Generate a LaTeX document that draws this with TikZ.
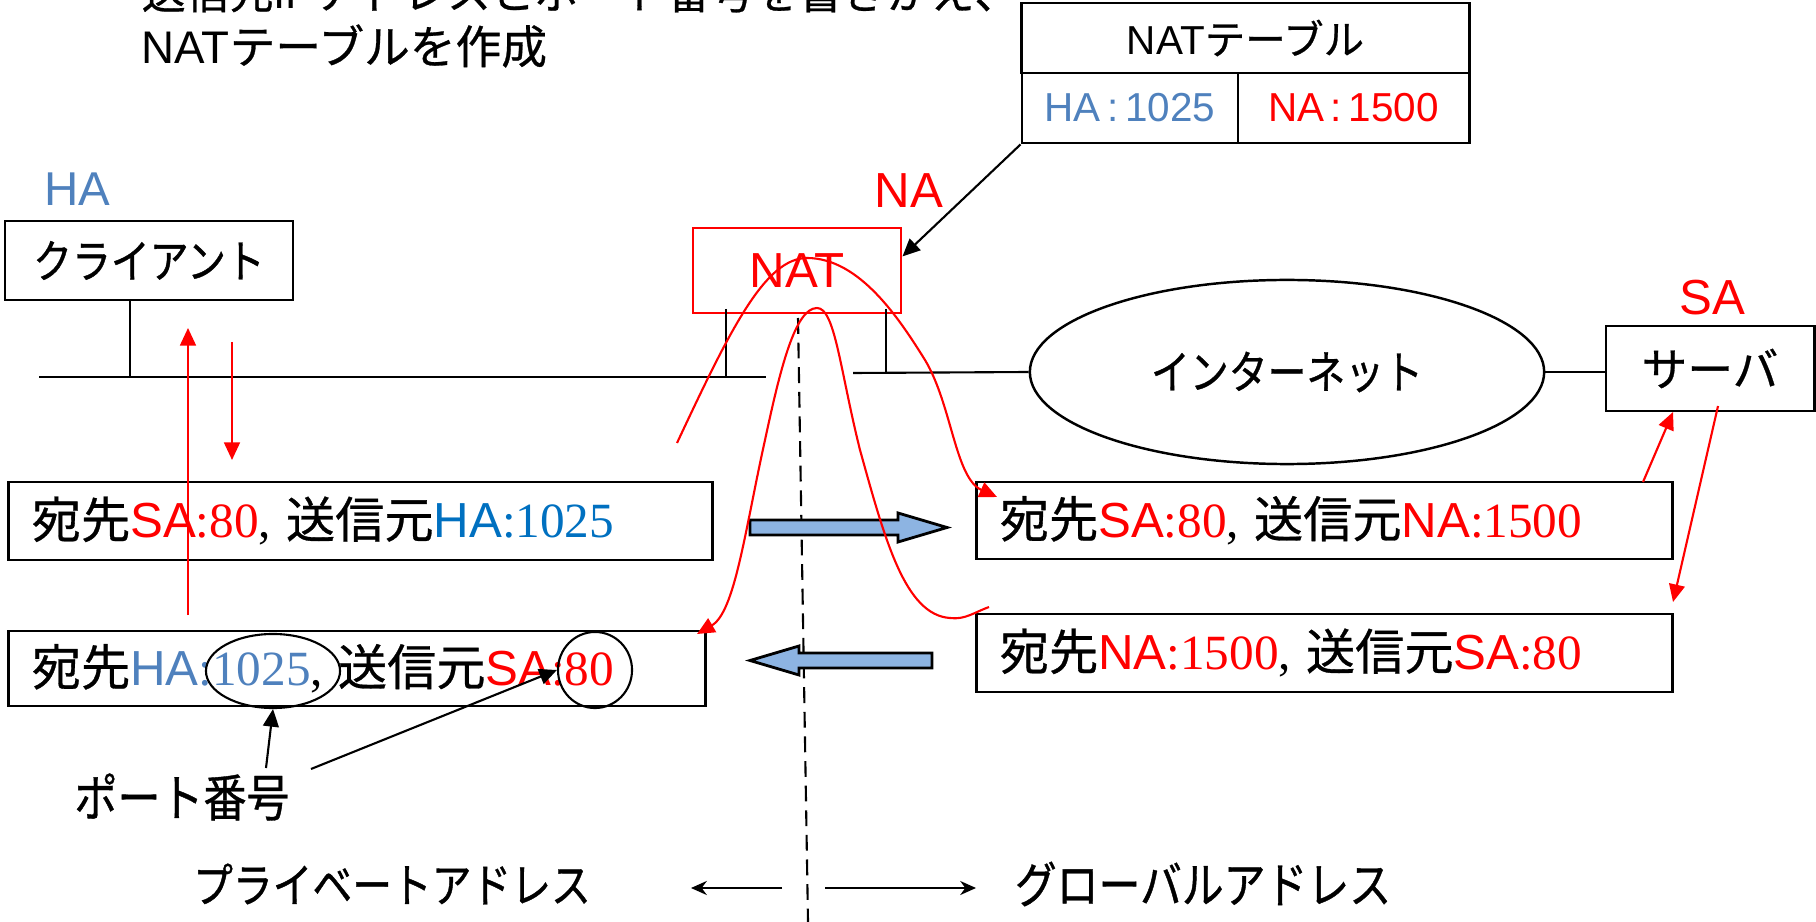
\documentclass[tikz,border=0pt]{standalone}
\usepackage{fontspec}
\setmainfont{Liberation Sans}
\newfontfamily\jp[FakeBold=0.6]{Noto Sans CJK JP}
\newfontfamily\jpc[FakeStretch=0.85,FakeBold=0.8]{Noto Sans CJK JP}
\newfontfamily\tmf{Liberation Serif}
\usetikzlibrary{arrows.meta,shapes.geometric,calc}
\definecolor{hblue}{RGB}{79,129,189}
\definecolor{dblue}{RGB}{0,112,192}
\definecolor{afill}{RGB}{141,180,226}
\newcommand{\ja}[1]{{\jp #1}}
\newcommand{\tmn}[1]{{\tmf #1}}
\newcommand{\cm}{{\tmf ,}\hspace{0.3em}}
\newcommand{\fs}[1]{\fontsize{#1}{#1}\selectfont}
\begin{document}
\begin{tikzpicture}[x=0.01cm,y=-0.01cm,
  box/.style={draw,line width=0.8pt,inner sep=0pt},
  pkt/.style={box,inner xsep=0.23cm,inner ysep=0pt,align=left,font=\fs{14}},
  net/.style={line width=0.6pt},
  redarr/.style={red,line width=0.6pt,-{Triangle[length=5pt,width=4.5pt]}},
  blkarr/.style={black,line width=0.6pt,-{Triangle[length=5pt,width=4.5pt]}},
  smallarr/.style={black,line width=0.6pt,-{Stealth[length=4.5pt,width=4pt]}},
  blockarrow/.style={draw,fill=afill,line width=0.8pt,line join=miter}]
\useasboundingbox (0,0) rectangle (1816,922);

% top text (partly cut off)
\node[anchor=west,inner sep=0pt,font=\fs{12.5}] (l1) at (141,-8) {\ja{送信元}IP\ja{アドレスとポート番号を書きかえ、}};
\node[anchor=west,inner sep=0pt,font=\fs{13}] (l2) at (141,46) {NAT\ja{テーブルを作成}};

% NAT table
\node[box,minimum width=4.47cm,minimum height=0.70cm,font=\fs{11.5}] (tt) at (1245.5,38) {NAT\ja{テーブル}};
\node[box,minimum width=2.16cm,minimum height=0.70cm,font=\fs{11.5},text=hblue] (th) at (1130,108) {HA\,:\,1025};
\node[box,minimum width=2.31cm,minimum height=0.70cm,font=\fs{11.5},text=red] (tn) at (1353.5,108) {NA\,:\,1500};

% address labels
\node[text=hblue,font=\fs{13.5},inner sep=0pt] (ha) at (77,189) {HA};
\node[text=red,font=\fs{14},inner sep=0pt] (na) at (909,191) {NA};
\node[text=red,font=\fs{14},inner sep=0pt] (sa) at (1712,298) {SA};

% hosts
\node[box,minimum width=2.88cm,minimum height=0.79cm,font=\jpc\fs{13}] (cl) at (149,260.5) {クライアント};
\node[draw=red,line width=0.8pt,inner sep=0pt,minimum width=2.08cm,minimum height=0.85cm,text=red,font=\fs{14}] (nat) at (797,270.5) {NAT};
\node[draw,ellipse,line width=0.7pt,minimum width=5.14cm,minimum height=1.84cm,font=\jpc\fs{13}] (inet) at (1287,372) {インターネット};
\node[box,minimum width=2.08cm,minimum height=0.85cm,font=\jp\fs{13}] (srv) at (1710,368.5) {サーバ};

% network lines
\coordinate (n0) at (39,377);
\coordinate (n1) at (766,377);
\coordinate (n2) at (853,373);
\coordinate (cs0) at (130,300);
\coordinate (cs1) at (130,377);
\coordinate (lt0) at (726,309);
\coordinate (lt1) at (726,376);
\coordinate (rt0) at (886,309);
\coordinate (rt1) at (886,373);
\draw[net] (n0) -- (n1);
\draw[net] (cs0) -- (cs1);
\draw[net] (lt0) -- (lt1);
\draw[net] (rt0) -- (rt1);
\draw[net] (n2) -- (inet.west);
\draw[net] (inet.east) -- (inet.east -| srv.west);

% dashed boundary
\coordinate (d0) at (798,318);
\coordinate (d1) at (808,922);
\draw[line width=0.6pt,dash pattern=on 4.5pt off 2.5pt] (d0) -- (d1);

% packets
\node[pkt,text width=6.57cm,minimum height=0.78cm] (b1) at (360.5,521)
  {\ja{宛先}\textcolor{red}{SA\tmn{:80}}\cm\ja{送信元}\textcolor{dblue}{HA\tmn{:1025}}};
\node[pkt,text width=6.50cm,minimum height=0.75cm] (b2) at (357,668.5)
  {\ja{宛先}\textcolor{hblue}{HA\tmn{:1025}}\cm\ja{送信元}\textcolor{red}{SA\tmn{:80}}};
\node[pkt,text width=6.49cm,minimum height=0.77cm] (b3) at (1324.5,520.5)
  {\ja{宛先}\textcolor{red}{SA\tmn{:80}}\cm\ja{送信元}\textcolor{red}{NA\tmn{:1500}}};
\node[pkt,text width=6.49cm,minimum height=0.78cm] (b4) at (1324.5,653)
  {\ja{宛先}\textcolor{red}{NA\tmn{:1500}}\cm\ja{送信元}\textcolor{red}{SA\tmn{:80}}};

% block arrows
\draw[blockarrow] (750,520) -- (898,520) -- (898,513) -- (947,527.5) -- (898,542) -- (898,535) -- (750,535) -- cycle;
\draw[blockarrow] (932,653) -- (799,653) -- (799,646) -- (750,660.5) -- (799,675) -- (799,668) -- (932,668) -- cycle;

% red packet paths
\draw[redarr] (677,443) .. controls (730,330) and (765,258) .. (807,258)
  .. controls (860,258) and (900,320) .. (925,360)
  .. controls (952,405) and (955,478) .. (997,497);
\draw[redarr] (989,607) .. controls (975,612) and (965,620) .. (950,618)
  .. controls (905,615) and (885,540) .. (860,450)
  .. controls (840,370) and (835,308) .. (817,308)
  .. controls (795,308) and (780,370) .. (765,440)
  .. controls (745,530) and (735,612) .. (697,634);

\coordinate (cu0) at (188,615);
\coordinate (cu1) at (188,328);
\coordinate (cd0) at (232,342);
\coordinate (cd1) at (232,460);
\coordinate (su0) at (1643,482);
\coordinate (su1) at (1673,412);
\coordinate (sd0) at (1718,406);
\coordinate (sd1) at (1673,602);
\draw[redarr] (cu0) -- (cu1);
\draw[redarr] (cd0) -- (cd1);
\draw[redarr] (su0) -- (su1);
\draw[redarr] (sd0) -- (sd1);

% table to NAT
\draw[blkarr] (th.south west) -- ($(nat.north east)!0.34!(nat.south east)$);

% port number marks
\node[draw,ellipse,line width=0.6pt,minimum width=1.34cm,minimum height=0.74cm] (p1) at (273,671) {};
\node[draw,ellipse,line width=0.6pt,minimum width=0.74cm,minimum height=0.76cm] (p2) at (595,670) {};
\node[font=\jpc\fs{14.4},inner sep=0pt] (port) at (182,797) {ポート番号};
\coordinate (pa1) at (266,768);
\coordinate (pa2) at (311,769);
\draw[blkarr] (pa1) -- (p1.south);
\draw[blkarr] (pa2) -- (p2.west);

% bottom legend
\node[font=\jpc\fs{13.3},inner sep=0pt] (priv) at (392,884) {プライベートアドレス};
\node[font=\jpc\fs{14},inner sep=0pt] (glob) at (1203,884) {グローバルアドレス};
\coordinate (la0) at (782,888);
\coordinate (la1) at (691,888);
\coordinate (ra0) at (825,888);
\coordinate (ra1) at (976,888);
\draw[smallarr] (la0) -- (la1);
\draw[smallarr] (ra0) -- (ra1);
\end{tikzpicture}
\end{document}
